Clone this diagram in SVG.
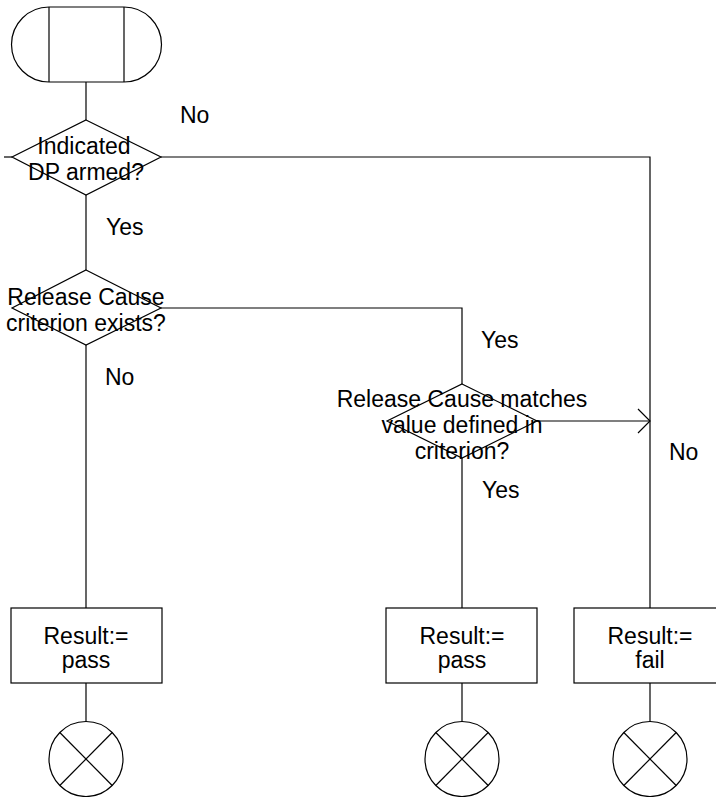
<svg xmlns="http://www.w3.org/2000/svg" width="716" height="797" viewBox="0 0 716 797">
<style>
.s{fill:#fff;stroke:#000;stroke-width:1.2}
.l{fill:none;stroke:#000;stroke-width:1.2}
text{font-family:"Liberation Sans",Arial,sans-serif;font-size:23px;fill:#000}
.c{text-anchor:middle}
</style>
<g id="connectors">
<line class="l" x1="86" y1="82" x2="86" y2="120"/>
<line class="l" x1="4" y1="157" x2="12" y2="157"/>
<polyline class="l" points="161,157 650,157 650,608"/>
<line class="l" x1="86" y1="195" x2="86" y2="270"/>
<line class="l" x1="86" y1="345" x2="86" y2="608"/>
<polyline class="l" points="161,308 462,308 462,384"/>
<line class="l" x1="462" y1="458" x2="462" y2="608"/>
<line class="l" x1="537" y1="421" x2="650" y2="421"/>
<polyline class="l" points="638,409 650,421 638,433"/>
<line class="l" x1="86" y1="683" x2="86" y2="722"/>
<line class="l" x1="462" y1="683" x2="462" y2="722"/>
<line class="l" x1="650" y1="683" x2="650" y2="722"/>
</g>
<g id="start">
<path class="s" d="M49,7 H124 A37.5,37.5 0 0 1 124,82 H49 A37.5,37.5 0 0 1 49,7 Z"/>
<line class="l" x1="49" y1="7" x2="49" y2="82"/>
<line class="l" x1="124" y1="7" x2="124" y2="82"/>
</g>
<g id="dec1">
<polygon class="s" points="86,120 161,157 86,195 12,157"/>
<text class="c" x="84" y="154">Indicated</text>
<text class="c" x="86" y="180">DP armed?</text>
</g>
<g id="dec2">
<polygon class="s" points="86,270 161,308 86,345 12,308"/>
<text class="c" x="86" y="305">Release Cause</text>
<text class="c" x="86" y="331">criterion exists?</text>
</g>
<g id="dec3">
<polygon class="s" points="462,384 537,421 462,458 387,421"/>
<text class="c" x="462" y="407">Release Cause matches</text>
<text class="c" x="462" y="433">value defined in</text>
<text class="c" x="462" y="459">criterion?</text>
</g>
<g id="labels">
<text x="180" y="123">No</text>
<text x="106" y="235">Yes</text>
<text x="105" y="385">No</text>
<text x="481" y="348">Yes</text>
<text x="482" y="498">Yes</text>
<text x="669" y="460">No</text>
</g>
<g id="box1">
<rect class="s" x="11" y="608" width="151" height="75"/>
<text class="c" x="86" y="644">Result:=</text>
<text class="c" x="86" y="668">pass</text>
</g>
<g id="box2">
<rect class="s" x="386" y="608" width="151" height="75"/>
<text class="c" x="462" y="644">Result:=</text>
<text class="c" x="462" y="668">pass</text>
</g>
<g id="box3">
<rect class="s" x="574" y="608" width="151" height="75"/>
<text class="c" x="650" y="644">Result:=</text>
<text class="c" x="650" y="668">fail</text>
</g>
<g id="end1">
<ellipse class="s" cx="86" cy="759" rx="37" ry="37.5"/>
<line class="l" x1="59.8" y1="732.5" x2="112.2" y2="785.5"/>
<line class="l" x1="112.2" y1="732.5" x2="59.8" y2="785.5"/>
</g>
<g id="end2">
<ellipse class="s" cx="462" cy="759" rx="37" ry="37.5"/>
<line class="l" x1="435.8" y1="732.5" x2="488.2" y2="785.5"/>
<line class="l" x1="488.2" y1="732.5" x2="435.8" y2="785.5"/>
</g>
<g id="end3">
<ellipse class="s" cx="650" cy="759" rx="37" ry="37.5"/>
<line class="l" x1="623.8" y1="732.5" x2="676.2" y2="785.5"/>
<line class="l" x1="676.2" y1="732.5" x2="623.8" y2="785.5"/>
</g>
</svg>
